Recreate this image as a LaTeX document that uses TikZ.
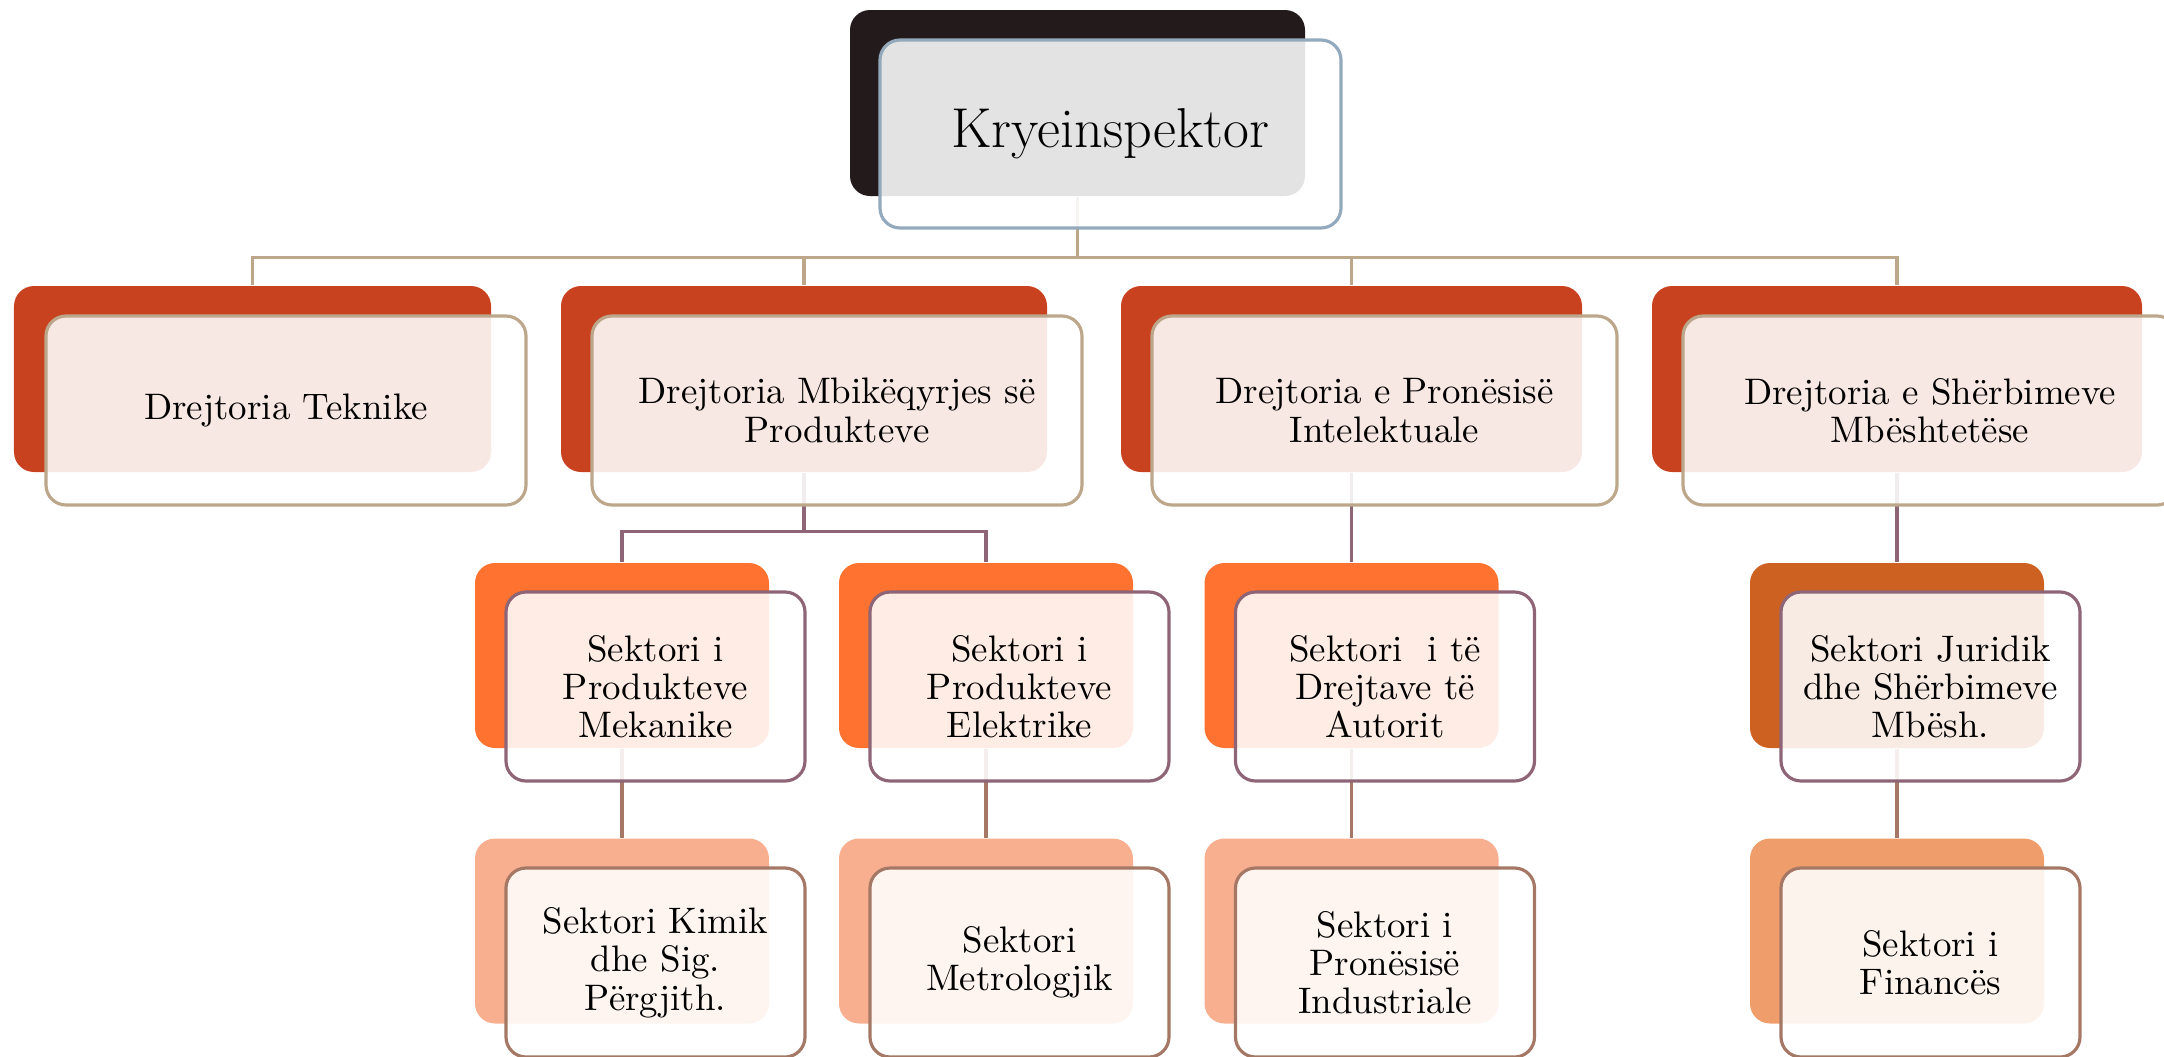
\documentclass[tikz,border=0pt]{standalone}
\usepackage{tikz}
\usetikzlibrary{positioning}

\definecolor{topdark}{HTML}{231A1C}
\definecolor{topline}{HTML}{93A9BC}
\definecolor{dirdark}{HTML}{C9421F}
\definecolor{dirline}{HTML}{BCA78B}
\definecolor{secdark}{HTML}{FF7230}
\definecolor{secdarkb}{HTML}{CD6122}
\definecolor{secline}{HTML}{8E6577}
\definecolor{subdark}{HTML}{F7AF8F}
\definecolor{subdarkb}{HTML}{EF9E6B}
\definecolor{subline}{HTML}{A57866}

\begin{document}
\begin{tikzpicture}[
    back/.style={rounded corners=0.2cm, inner sep=0pt},
    card/.style={draw, rounded corners=0.2cm, line width=0.9pt, fill=white,
      fill opacity=0.88, text opacity=1, align=center, inner sep=0pt,
      font=\fontsize{10.5}{10.9}\selectfont},
    dir/.style={minimum width=#1, minimum height=1.86cm},
    sec/.style={minimum width=2.94cm, minimum height=1.85cm},
    conn/.style={line width=0.9pt}]
  \useasboundingbox (0,0) rectangle (21.64,-10.56);

  % coloured backs
  \node[back, fill=topdark, minimum width=4.55cm, minimum height=1.86cm] (kd) at (10.775,-1.03) {};
  \node[back, fill=dirdark, dir=4.77cm] (d1) at (2.525,-3.79) {};
  \node[back, fill=dirdark, dir=4.86cm] (d2) at (8.04,-3.79) {};
  \node[back, fill=dirdark, dir=4.61cm] (d3) at (13.515,-3.79) {};
  \node[back, fill=dirdark, dir=4.90cm] (d4) at (18.97,-3.79) {};
  \node[back, fill=secdark, sec] (s1) at (6.22,-6.555) {};
  \node[back, fill=secdark, sec] (s2) at (9.86,-6.555) {};
  \node[back, fill=secdark, sec] (s3) at (13.515,-6.555) {};
  \node[back, fill=secdarkb, sec] (s4) at (18.97,-6.555) {};
  \node[back, fill=subdark, sec] (t1) at (6.22,-9.31) {};
  \node[back, fill=subdark, sec] (t2) at (9.86,-9.31) {};
  \node[back, fill=subdark, sec] (t3) at (13.515,-9.31) {};
  \node[back, fill=subdarkb, sec] (t4) at (18.97,-9.31) {};

  % connectors
  \draw[conn, dirline] (kd.south) -- ++(0,-0.61) coordinate (kj);
  \foreach \n in {d1,d2,d3,d4}
    \draw[conn, dirline] (kj) -| (\n.north);
  \draw[conn, secline] (d2.south) -- ++(0,-0.59) coordinate (pj);
  \draw[conn, secline] (pj) -| (s1.north);
  \draw[conn, secline] (pj) -| (s2.north);
  \draw[conn, secline] (d3.south) -- (s3.north);
  \draw[conn, secline] (d4.south) -- (s4.north);
  \foreach \a/\b in {s1/t1,s2/t2,s3/t3,s4/t4}
    \draw[conn, subline] (\a.south) -- (\b.north);

  % text cards
  \node[card, draw=topline, minimum width=4.61cm, minimum height=1.88cm,
    font=\fontsize{16}{18}\selectfont] (k) at (11.105,-1.34) {Kryeinspektor};
  \node[card, draw=dirline, minimum width=4.80cm, minimum height=1.89cm] (c1) at (2.86,-4.105) {Drejtoria Teknike};
  \node[card, draw=dirline, minimum width=4.90cm, minimum height=1.89cm] (c2) at (8.37,-4.105) {Drejtoria Mbikëqyrjes së\\Produkteve};
  \node[card, draw=dirline, minimum width=4.65cm, minimum height=1.89cm] (c3) at (13.845,-4.105) {Drejtoria e Pronësisë\\Intelektuale};
  \node[card, draw=dirline, minimum width=4.94cm, minimum height=1.89cm] (c4) at (19.30,-4.105) {Drejtoria e Shërbimeve\\Mbështetëse};

  \node[card, draw=secline, minimum width=2.99cm, minimum height=1.89cm] (e1) at (6.555,-6.865) {Sektori i\\Produkteve\\Mekanike};
  \node[card, draw=secline, minimum width=2.99cm, minimum height=1.89cm] (e2) at (10.195,-6.865) {Sektori i\\Produkteve\\Elektrike};
  \node[card, draw=secline, minimum width=2.99cm, minimum height=1.89cm] (e3) at (13.85,-6.865) {Sektori \ i të\\Drejtave të\\Autorit};
  \node[card, draw=secline, minimum width=2.99cm, minimum height=1.89cm] (e4) at (19.305,-6.865) {Sektori Juridik\\dhe Shërbimeve\\Mbësh.};

  \node[card, draw=subline, minimum width=2.99cm, minimum height=1.89cm] (f1) at (6.555,-9.625) {Sektori Kimik\\dhe Sig.\\Përgjith.};
  \node[card, draw=subline, minimum width=2.99cm, minimum height=1.89cm] (f2) at (10.195,-9.625) {Sektori\\Metrologjik};
  \node[card, draw=subline, minimum width=2.99cm, minimum height=1.89cm] (f3) at (13.85,-9.625) {Sektori i\\Pronësisë\\Industriale};
  \node[card, draw=subline, minimum width=2.99cm, minimum height=1.89cm] (f4) at (19.305,-9.625) {Sektori i\\Financës};
\end{tikzpicture}
\end{document}
